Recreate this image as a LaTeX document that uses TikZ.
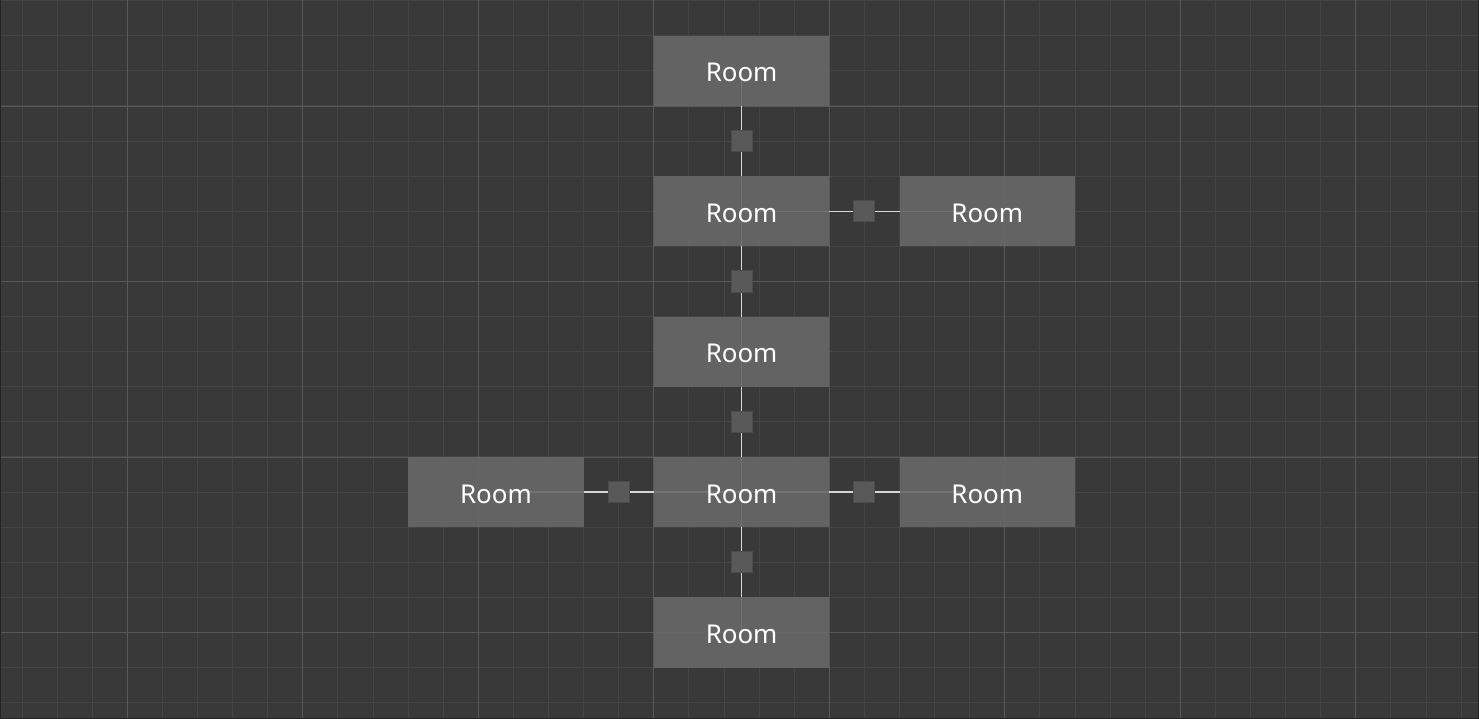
\documentclass[tikz,border=0pt]{standalone}
\usepackage{fontspec}
\setmainfont{Noto Sans}
\usetikzlibrary{backgrounds}

\definecolor{canvas}{HTML}{393939}
\definecolor{gridminor}{HTML}{444444}
\definecolor{gridmajor}{HTML}{585858}
\definecolor{roomgray}{HTML}{686868}
\definecolor{doorgray}{HTML}{595959}
\definecolor{doorline}{HTML}{4b4b4b}
\definecolor{linkgray}{HTML}{d6d6d6}
\definecolor{frame}{HTML}{242424}

\begin{document}
\begin{tikzpicture}[
    room/.style={rectangle, fill=roomgray, fill opacity=0.9, text opacity=1,
        text=white, minimum width=5cm, minimum height=2cm, inner sep=0pt,
        text height=18pt, text depth=0pt,
        font=\fontsize{21}{25}\selectfont},
    door/.style={rectangle, fill=doorgray, draw=doorline, line width=0.8pt,
        minimum size=0.6cm, inner sep=0pt},
    link/.style={draw=linkgray, line width=1.1pt}
]
    \useasboundingbox (-18.63,-7.464) rectangle (23.51,13.02);

    \node[room] (r1) at (2.5,11) {Room};
    \node[room] (r2) at (2.5,7) {Room};
    \node[room] (r3) at (2.5,3) {Room};
    \node[room] (r4) at (2.5,-1) {Room};
    \node[room] (r5) at (2.5,-5) {Room};
    \node[room] (e2) at (9.5,7) {Room};
    \node[room] (e4) at (9.5,-1) {Room};
    \node[room] (w4) at (-4.5,-1) {Room};

    \node[door] (d12) at (2.5,9) {};
    \node[door] (d23) at (2.5,5) {};
    \node[door] (d34) at (2.5,1) {};
    \node[door] (d45) at (2.5,-3) {};
    \node[door] (de2) at (6,7) {};
    \node[door] (de4) at (6,-1) {};
    \node[door] (dw4) at (-1,-1) {};

    \begin{pgfonlayer}{background}
        \fill[canvas] (-18.63,-7.464) rectangle (23.51,13.02);
        \draw[gridminor, line width=0.8pt, step=1]
            (-18.63,-7.464) grid (23.51,13.02);
        \draw[gridmajor, line width=0.75pt, step=5]
            (-18.63,-7.464) grid (23.51,13.02);
        \draw[frame, line width=1.6pt]
            (-18.63,13.02) -- (-18.63,-7.464) -- (23.51,-7.464) -- (23.51,13.02);
        \draw[link] (r1.center) -- (r2.center);
        \draw[link] (r2.center) -- (r3.center);
        \draw[link] (r3.center) -- (r4.center);
        \draw[link] (r4.center) -- (r5.center);
        \draw[link] (r2.center) -- (e2.center);
        \draw[link] (r4.center) -- (e4.center);
        \draw[link] (r4.center) -- (w4.center);
    \end{pgfonlayer}
\end{tikzpicture}
\end{document}
